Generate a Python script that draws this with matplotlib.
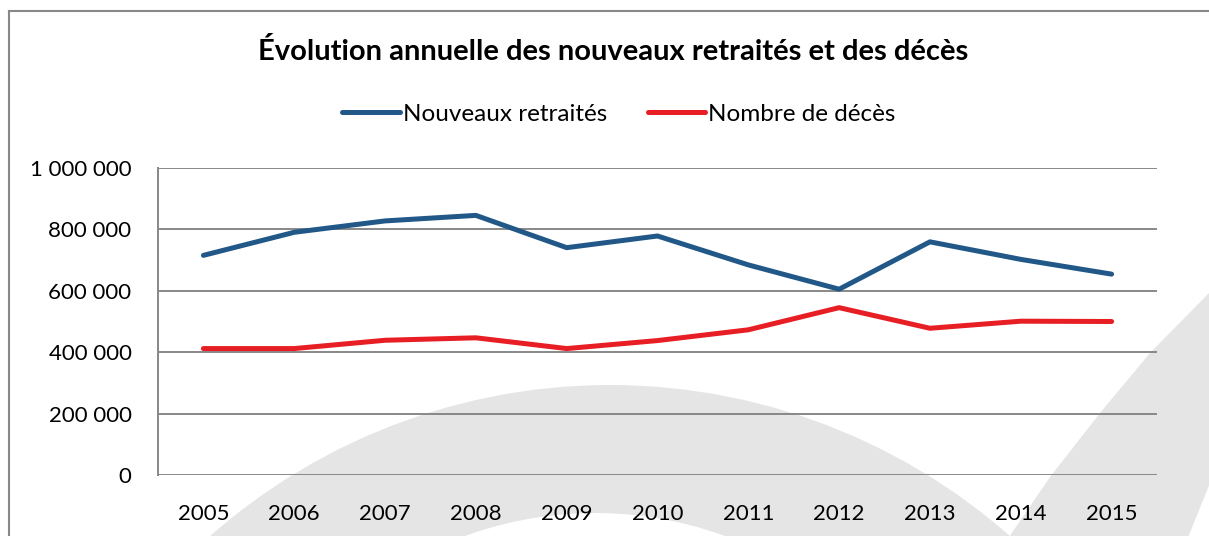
import matplotlib
matplotlib.use('Agg')
import matplotlib.pyplot as plt
from matplotlib.patches import Circle, Polygon
from matplotlib.lines import Line2D

# Data
years = ['2005', '2006', '2007', '2008', '2009', '2010', '2011', '2012', '2013', '2014', '2015']
nouveaux_retraites = [715000, 790000, 827000, 845000, 740000, 778000, 684000, 605000, 759000, 702000, 654000]
nombre_deces = [412000, 412000, 439000, 447000, 412000, 438000, 473000, 545000, 478000, 501000, 500000]
y_ticks = [0, 200000, 400000, 600000, 800000, 1000000]

title = 'Évolution annuelle des nouveaux retraités et des décès'
labels = ['Nouveaux retraités', 'Nombre de décès']
colors = ['#215888', '#e81e25']

plt.rcParams['font.family'] = ['Lato', 'DejaVu Sans']

W, H = 1209, 536
fig = plt.figure(figsize=(W / 100, H / 100), dpi=100)
fig.patch.set_facecolor('white')

# background layer in pixel coordinates (watermark + frame)
bg = fig.add_axes([0, 0, 1, 1], zorder=0)
bg.set_xlim(0, W)
bg.set_ylim(H, 0)
bg.axis('off')
wm = '#e5e5e5'
bg.add_patch(Circle((610, 990), 605, color=wm, lw=0))
bg.add_patch(Circle((595, 892), 379, color='white', lw=0))
bg.add_patch(Polygon([(1212, 290), (1150, 353), (1100, 413), (1050, 477), (1007, 540),
                      (1187, 540), (1212, 478)], closed=True, color=wm, lw=0))
bg.add_line(Line2D([9, 9], [11, H + 5], color='#888888', lw=1.5))
bg.add_line(Line2D([9, W + 5], [11, 11], color='#888888', lw=1.5))

# main chart
ax = fig.add_axes([158 / W, 1 - 475.3 / H, 999 / W, (475.3 - 167.7) / H], zorder=1)
ax.patch.set_alpha(0)
x = range(len(years))
ax.plot(x, nouveaux_retraites, color=colors[0], lw=3.6, solid_capstyle='round',
        solid_joinstyle='round', label=labels[0], zorder=3)
ax.plot(x, nombre_deces, color=colors[1], lw=3.6, solid_capstyle='round',
        solid_joinstyle='round', label=labels[1], zorder=3)

ax.set_xlim(-0.5, len(years) - 0.5)
ax.set_ylim(0, 1000000)
ax.set_xticks(list(x))
ax.set_xticklabels(years)
ax.set_yticks(y_ticks)
ax.set_yticklabels([f'{v:,.0f}'.replace(',', ' ') for v in y_ticks])
ax.tick_params(length=0, labelsize=16, colors='black')
ax.tick_params(axis='x', pad=21)
ax.tick_params(axis='y', pad=19)
ax.grid(axis='y', color='#888888', lw=1.4)
ax.set_axisbelow(True)
for s in ['top', 'right', 'bottom']:
    ax.spines[s].set_visible(False)
ax.spines['left'].set_color('#888888')
ax.spines['left'].set_linewidth(1.4)

fig.text(613 / W, 1 - 52 / H, title, ha='center', va='center', fontsize=21, fontweight='bold')
fig.legend(loc='center', bbox_to_anchor=(619 / W, 1 - 114 / H), ncol=2, frameon=False,
           fontsize=17.5, handlelength=2.35, handletextpad=0.12, columnspacing=1.7)

fig.savefig('out.png', dpi=100, facecolor='white')
